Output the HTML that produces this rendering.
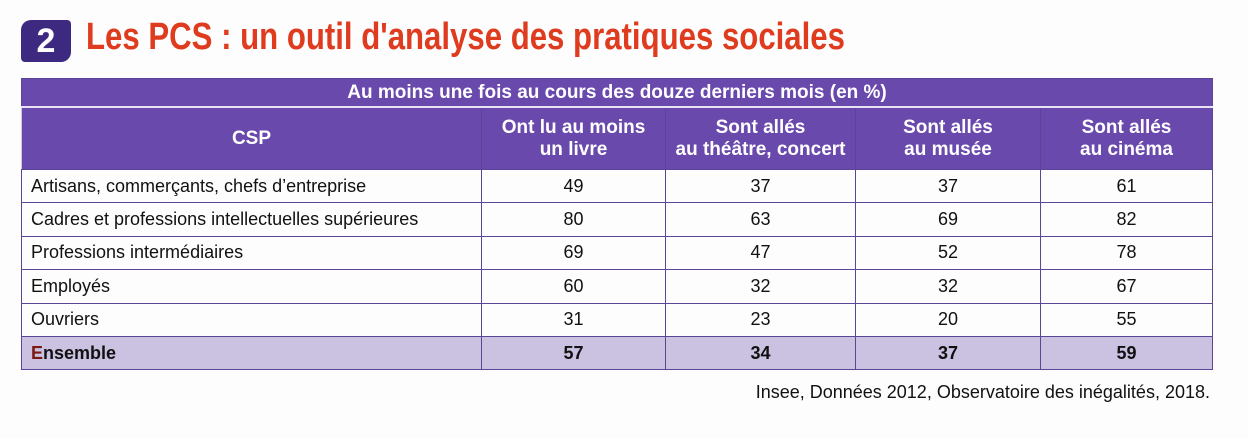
<!DOCTYPE html>
<html><head><meta charset="utf-8"><style>
body{margin:0;width:1248px;height:438px;background:#fdfdfd;position:relative;overflow:hidden;font-family:"Liberation Sans Narrow","Liberation Sans",sans-serif}
.badge{position:absolute;left:21px;top:20px;width:50px;height:42px;background:#3d2a80;border-radius:10px 4px 10px 4px;color:#fff;font:bold 34px "Liberation Sans",sans-serif;text-align:center;line-height:42px}
.title{position:absolute;left:86px;top:16px;color:#de3b1f;font:bold 38px "Liberation Sans",sans-serif;transform:scaleX(0.82);transform-origin:0 0;white-space:nowrap}
table{position:absolute;left:21px;top:78px;width:1192px;border-collapse:collapse;font-size:18px}
td,th{border:1.5px solid #5a4596;padding:0}
th{background:#6a49ad;color:#fff;font-weight:bold;font-size:19px;line-height:22px}
tr.top th{height:27px;border-bottom:2px solid #e8e2f2}
tr.h th{height:61px;border-left:1.5px solid #cfc6e6}
td{height:32.4px;color:#111;text-align:center}
td.l{text-align:left;padding-left:9px}
tr.ens td{background:#cbc2e2;font-weight:bold}
.src{position:absolute;right:38px;top:382px;font-size:18px;color:#111}
</style></head><body>
<div class="badge">2</div>
<div class="title">Les PCS : un outil d'analyse des pratiques sociales</div>
<table>
<tr class="top"><th colspan="5">Au moins une fois au cours des douze derniers mois (en %)</th></tr>
<tr class="h"><th style="width:459px">CSP</th><th style="width:183px">Ont lu au moins<br>un livre</th><th style="width:189px">Sont allés<br>au théâtre, concert</th><th style="width:184px">Sont allés<br>au musée</th><th>Sont allés<br>au cinéma</th></tr>
<tr><td class="l">Artisans, commerçants, chefs d’entreprise</td><td>49</td><td>37</td><td>37</td><td>61</td></tr>
<tr><td class="l">Cadres et professions intellectuelles supérieures</td><td>80</td><td>63</td><td>69</td><td>82</td></tr>
<tr><td class="l">Professions intermédiaires</td><td>69</td><td>47</td><td>52</td><td>78</td></tr>
<tr><td class="l">Employés</td><td>60</td><td>32</td><td>32</td><td>67</td></tr>
<tr><td class="l">Ouvriers</td><td>31</td><td>23</td><td>20</td><td>55</td></tr>
<tr class="ens"><td class="l"><span style="color:#7a1a10">E</span>nsemble</td><td>57</td><td>34</td><td>37</td><td>59</td></tr>
</table>
<div class="src">Insee, Données 2012, Observatoire des inégalités, 2018.</div>
</body></html>
